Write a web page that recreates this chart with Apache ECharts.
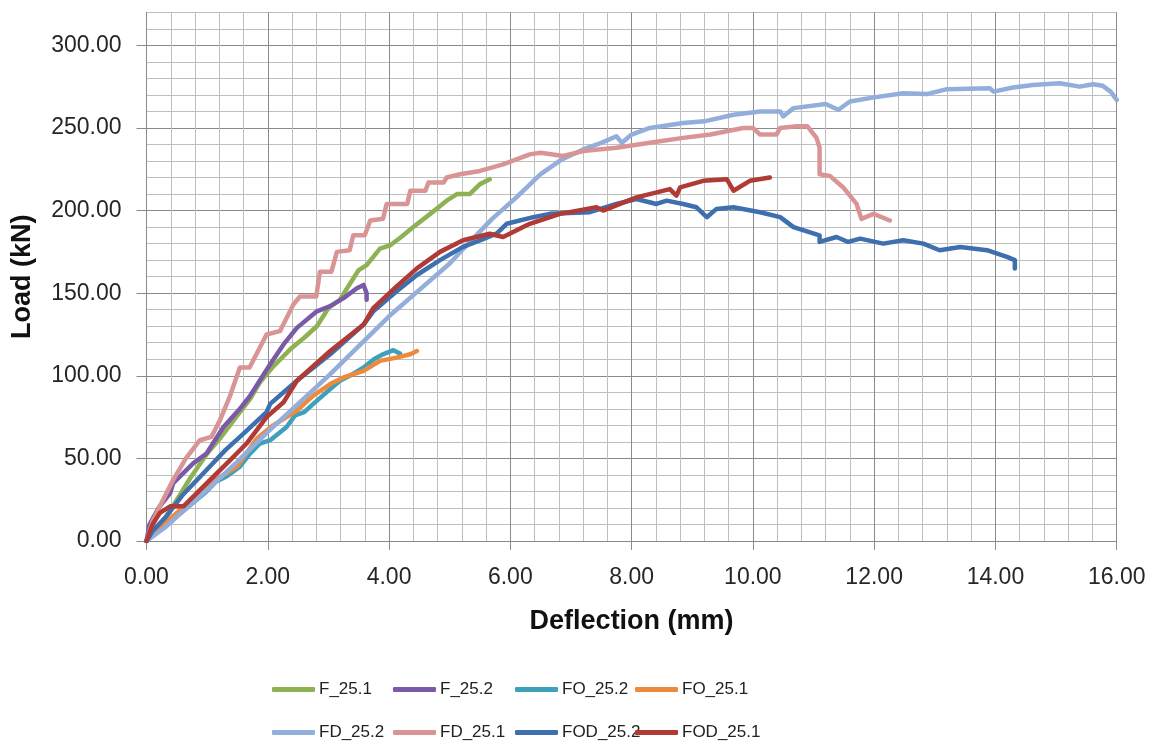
<!DOCTYPE html>
<html>
<head>
<meta charset="utf-8">
<script src="https://cdn.jsdelivr.net/npm/echarts@6/dist/echarts.min.js"></script>
<style>
html,body{margin:0;padding:0;background:#fff;}
#c{width:1159px;height:742px;}
</style>
</head>
<body>
<div id="c"></div>
<script>
// ---- data: [deflection (mm), load (kN)] ----
const seriesNames = ['F_25.1','F_25.2','FO_25.2','FO_25.1','FD_25.2','FD_25.1','FOD_25.2','FOD_25.1'];
const seriesColors = ['#8DB254','#7A5AA6','#3EA0BA','#EE8A3C','#93AEDA','#D99595','#3E6FAF','#B03A36'];

const f251 = [[0,0],[0.2,8],[0.45,22],[0.72,38],[1.0,53],[1.21,62],[1.54,78],[1.71,86],[1.87,96],[2.1,106],[2.37,116],[2.6,123],[2.81,130],[3.0,141],[3.19,146],[3.36,156],[3.5,164],[3.63,167],[3.85,177],[4.02,179],[4.2,184],[4.4,190],[4.68,198],[4.95,206],[5.12,210],[5.33,210],[5.5,216],[5.66,219]];
const f252 = [[0,0],[0.05,10],[0.2,20],[0.39,29],[0.44,35],[0.77,47],[0.99,53],[1.27,69],[1.54,80],[1.71,88],[2.04,107],[2.26,119],[2.48,129],[2.81,139],[3.02,142],[3.25,147],[3.47,153],[3.58,155],[3.63,150],[3.63,146]];
const fo252 = [[0,0],[0.3,9],[0.6,18],[0.99,30],[1.15,36],[1.32,39],[1.54,45],[1.71,53],[1.87,59],[2.04,61],[2.31,69],[2.45,76],[2.6,78],[2.75,83],[3.0,91],[3.19,97],[3.4,101],[3.58,105],[3.75,110],[3.9,113],[4.07,115.5],[4.18,113.5]];
const fo251 = [[0,0],[0.22,8],[0.5,17],[0.8,27],[1.1,36],[1.49,45],[1.82,62],[2.09,70],[2.48,79],[2.75,88],[3.03,95],[3.25,99],[3.58,103],[3.85,109],[4.12,111],[4.35,113],[4.46,115]];
const fd252 = [[0,0],[0.3,8],[0.6,18],[1.0,31],[1.5,48],[2.0,66],[2.5,83],[3.0,100],[3.5,118],[4.0,136],[4.5,152],[5.0,168],[5.33,181],[5.7,195],[6.1,208],[6.5,222],[6.85,231],[7.2,237],[7.5,241],[7.75,245],[7.84,241],[8.0,246],[8.3,250],[8.85,253],[9.2,254],[9.68,258],[10.12,260],[10.45,260],[10.5,257],[10.67,262],[11.2,264.5],[11.41,261],[11.6,266],[12.0,268.5],[12.48,271],[12.87,270.5],[13.2,273.5],[13.91,274],[13.97,272],[14.29,274.5],[14.62,276],[15.06,277],[15.39,275],[15.61,276.5],[15.77,275.5],[15.9,272],[16.0,267]];
const fd251 = [[0,0],[0.1,12],[0.22,21],[0.44,37],[0.65,50],[0.88,61],[1.07,63],[1.21,73],[1.38,88],[1.54,105],[1.7,105],[1.98,125],[2.2,127],[2.42,143],[2.53,148],[2.8,148],[2.86,163],[3.05,163],[3.14,175],[3.35,176],[3.41,185],[3.6,185],[3.69,194],[3.9,195],[3.96,204],[4.3,204],[4.35,212],[4.6,212],[4.65,217],[4.9,217],[4.95,220],[5.17,222],[5.5,224],[5.88,228],[6.32,234],[6.5,235],[6.87,233],[7.2,236],[7.75,238],[8.3,241],[8.85,244],[9.3,246],[9.84,250],[10.0,250],[10.12,246],[10.39,246],[10.45,250],[10.72,251],[10.9,251],[11.05,244],[11.1,238],[11.1,222],[11.27,221],[11.49,214],[11.71,204],[11.79,195],[11.99,198],[12.26,194]];
const fod252 = [[0,0],[0.1,6],[0.33,15],[0.6,28],[0.99,43],[1.3,55],[1.6,65],[1.98,78],[2.04,83],[2.48,97],[3.03,113],[3.58,131],[3.74,139],[4.12,151],[4.46,161],[4.84,170],[5.22,178],[5.5,182],[5.77,186],[5.83,188],[5.94,192],[6.38,196],[6.65,198],[7.31,199],[7.75,204],[8.08,207],[8.41,204],[8.58,206],[8.85,204],[9.07,202],[9.24,196],[9.4,201],[9.68,202],[10.12,199],[10.45,196],[10.67,190],[11.1,185],[11.1,181],[11.38,184],[11.57,181],[11.77,183],[12.15,180],[12.48,182],[12.81,180],[13.08,176],[13.42,178],[13.86,176],[14.19,172],[14.32,170],[14.32,165]];
const fod251 = [[0,0],[0.1,10],[0.22,17],[0.39,21],[0.61,21],[0.83,29],[1.05,37],[1.38,49],[1.65,59],[1.98,75],[2.26,84],[2.48,97],[3.03,115],[3.58,131],[3.74,141],[4.12,154],[4.46,165],[4.84,175],[5.22,182],[5.66,186],[5.88,184],[6.32,192],[6.82,198],[7.42,202],[7.53,200],[8.08,208],[8.63,213],[8.74,209],[8.8,214],[9.18,218],[9.57,219],[9.68,212],[9.95,218],[10.28,220]];

const seriesData = [f251, f252, fo252, fo251, fd252, fd251, fod252, fod251];

// axis settings
const xMin = 0, xMax = 16, xInterval = 2;
const yMin = 0, yMax = 320, yMinor = 10;
const yTickValues = [0, 50, 100, 150, 200, 250, 300];

// legend placement (4 columns x 2 rows)
const legendCols = [272, 393, 515, 635];
const legendRows = [681, 724];

const chart = echarts.init(document.getElementById('c'), null, {renderer: 'canvas'});

const majorColor = '#8a8a8a';
const minorColor = '#bfbfbf';
const yLineColors = [];
for (let v = yMin; v <= yMax; v += yMinor) yLineColors.push(yTickValues.indexOf(v) >= 0 ? majorColor : minorColor);

const legends = seriesNames.map((n, i) => ({
  data: [n],
  left: legendCols[i % 4],
  top: legendRows[Math.floor(i / 4)],
  icon: 'roundRect',
  itemWidth: 43,
  itemHeight: 5,
  itemGap: 0,
  padding: 0,
  textStyle: {fontFamily: 'Liberation Sans', fontSize: 17, color: '#222', padding: [0,0,0,-1]},
  selectedMode: false
}));

const option = {
  backgroundColor: '#fff',
  animation: false,
  color: seriesColors,
  grid: {left: 146.5, right: 42.3, top: 12.3, bottom: 201, containLabel: false, outerBoundsMode: 'none'},
  legend: legends,
  xAxis: {
    type: 'value', min: xMin, max: xMax, interval: xInterval,
    name: 'Deflection (mm)', nameLocation: 'middle', nameGap: 67,
    nameTextStyle: {fontFamily: 'Liberation Sans', fontSize: 27, fontWeight: 'bold', color: '#111'},
    axisLine: {show: true, lineStyle: {color: majorColor, width: 1}},
    axisTick: {show: true, length: 9, lineStyle: {color: majorColor}},
    axisLabel: {fontFamily: 'Liberation Sans', fontSize: 23, color: '#262626', margin: 25,
      formatter: v => v.toFixed(2)},
    splitLine: {show: true, lineStyle: {color: majorColor, width: 1}},
    minorTick: {show: false, splitNumber: 5},
    minorSplitLine: {show: true, lineStyle: {color: minorColor, width: 1}}
  },
  yAxis: [{
    type: 'value', min: yMin, max: yMax, interval: yMinor,
    name: 'Load (kN)', nameLocation: 'middle', nameGap: 110, nameRotate: 90,
    nameTextStyle: {fontFamily: 'Liberation Sans', fontSize: 27, fontWeight: 'bold', color: '#111'},
    axisLine: {show: true, lineStyle: {color: majorColor, width: 1}},
    axisTick: {show: false},
    axisLabel: {fontFamily: 'Liberation Sans', fontSize: 23, color: '#262626', margin: 25,
      formatter: v => (yTickValues.indexOf(v) >= 0) ? v.toFixed(2) : ''},
    splitLine: {show: true, lineStyle: {color: yLineColors, width: 1}}
  }, {
    type: 'value', min: yMin, max: yMax, position: 'left',
    axisLine: {show: false}, axisLabel: {show: false}, splitLine: {show: false},
    axisTick: {show: true, length: 10, customValues: yTickValues, lineStyle: {color: majorColor}}
  }],
  series: seriesNames.map((n, i) => ({
    name: n, type: 'line', data: seriesData[i], showSymbol: false, symbol: 'none',
    lineStyle: {width: 4.5, color: seriesColors[i], join: 'round', cap: 'round'},
    itemStyle: {color: seriesColors[i]},
    smooth: false
  }))
};
chart.setOption(option);
</script>
</body>
</html>
